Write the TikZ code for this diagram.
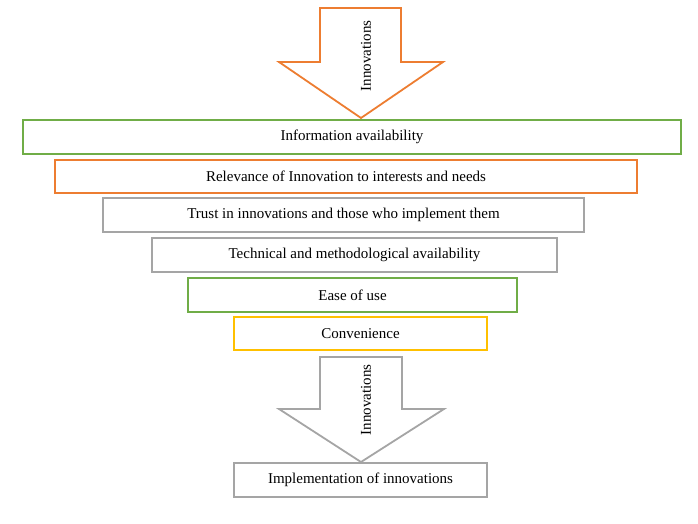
\documentclass[tikz,border=0pt]{standalone}
\usepackage{fontspec}
\setmainfont{Liberation Serif}
\definecolor{cgreen}{HTML}{70AD47}
\definecolor{corange}{HTML}{ED7D31}
\definecolor{cgray}{HTML}{A5A5A5}
\definecolor{cyellow}{HTML}{FFC000}
\begin{document}
\begin{tikzpicture}[x=1pt,y=-1pt,
  lvl/.style={line width=1.8pt,inner sep=0pt,text=black,font=\fontsize{15}{17}\selectfont},
  bigarrow/.style={line width=1.8pt,line join=miter,fill=white},
  arrowlabel/.style={rotate=90,font=\fontsize{15}{17}\selectfont,inner sep=0pt}]
\useasboundingbox (0,0) rectangle (698,523);
% top arrow
\draw[bigarrow,draw=corange] (320,8) -- (401,8) -- (401,62) -- (443,62) -- (361,118) -- (279,62) -- (320,62) -- cycle;
\node[arrowlabel] (t1) at (366,56) {Innovations};
% boxes
\node[lvl,draw=cgreen] (b1) at (352,137) [minimum width=658pt,minimum height=34pt] {Information availability};
\node[lvl,draw=corange] (b2) at (346,176.5) [minimum width=582pt,minimum height=33pt] {Relevance of Innovation to interests and needs};
\node[lvl,draw=cgray] (b3) at (343.5,215) [minimum width=481pt,minimum height=34pt] {Trust in innovations and those who implement them};
\node[lvl,draw=cgray] (b4) at (354.5,255) [minimum width=405pt,minimum height=34pt] {Technical and methodological availability};
\node[lvl,draw=cgreen] (b5) at (352.5,295) [minimum width=329pt,minimum height=34pt] {Ease of use};
\node[lvl,draw=cyellow] (b6) at (360.5,333.5) [minimum width=253pt,minimum height=33pt] {Convenience};
% bottom arrow
\draw[bigarrow,draw=cgray] (320,357) -- (402,357) -- (402,409) -- (444,409) -- (361,462) -- (279,409) -- (320,409) -- cycle;
\node[arrowlabel] (t2) at (366,400) {Innovations};
\node[lvl,draw=cgray] (b7) at (360.5,480) [minimum width=253pt,minimum height=34pt] {Implementation of innovations};
\end{tikzpicture}
\end{document}
